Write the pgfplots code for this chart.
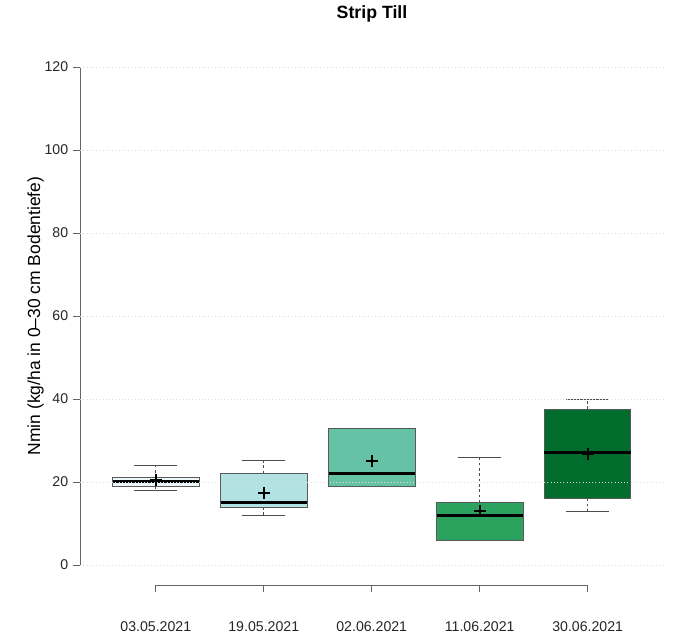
\documentclass[border=0pt]{standalone}
\usepackage{pgfplots}
\pgfplotsset{compat=1.18}
\usepackage{fontspec}
\setmainfont{Liberation Sans}
\definecolor{c1}{HTML}{EDF8FB}
\definecolor{c2}{HTML}{B2E2E2}
\definecolor{c3}{HTML}{66C2A4}
\definecolor{c4}{HTML}{2CA25F}
\definecolor{c5}{HTML}{006D2C}
\definecolor{axgray}{HTML}{666666}
\begin{document}
\begin{tikzpicture}
\begin{axis}[
  at={(60.15pt,37.5pt)}, anchor=south west,
  scale only axis, width=437.3pt, height=403.5pt,
  xmin=0.3, xmax=5.7, ymin=-4.8, ymax=124.8,
  axis line style={draw=none},
  xtick={1,2,3,4,5},
  xticklabels={03.05.2021,19.05.2021,02.06.2021,11.06.2021,30.06.2021},
  ytick={0,20,40,60,80,100,120},
  xtick pos=left, ytick pos=left,
  tick align=outside,
  major tick length=5.5pt,
  tick style={color=axgray, line width=0.6pt},
  ymajorgrids, grid style={dotted, color=black!13, line width=0.5pt},
  tick label style={font=\fontsize{10.6}{12}\selectfont, color=black!85},
  /pgf/number format/assume math mode=true,
  xticklabel style={anchor=base, yshift=-29.5pt},
  axis on top,
  clip=false,
]
% axis lines (R style)
\draw[axgray, line width=0.6pt] (axis cs:0.3,0) -- (axis cs:0.3,120);
\draw[axgray, line width=0.6pt] (axis cs:1,-4.8) -- (axis cs:5,-4.8);

% ---- whiskers (dashed) ----
\addplot[black!70, line width=0.6pt, dash pattern=on 2pt off 2pt] coordinates {(1,21) (1,24)};
\addplot[black!70, line width=0.6pt, dash pattern=on 2pt off 2pt] coordinates {(1,19) (1,18)};
\addplot[black!70, line width=0.6pt, dash pattern=on 2pt off 2pt] coordinates {(2,22.1) (2,25.1)};
\addplot[black!70, line width=0.6pt, dash pattern=on 2pt off 2pt] coordinates {(2,14) (2,12)};
\addplot[black!70, line width=0.6pt, dash pattern=on 2pt off 2pt] coordinates {(4,15) (4,26)};
\addplot[black!70, line width=0.6pt, dash pattern=on 2pt off 2pt] coordinates {(5,37.6) (5,40)};
\addplot[black!70, line width=0.6pt, dash pattern=on 2pt off 2pt] coordinates {(5,16.1) (5,13)};

% ---- caps ----
\addplot[black!70, line width=0.6pt] coordinates {(0.8,24) (1.2,24)};
\addplot[black!70, line width=0.6pt] coordinates {(0.8,18) (1.2,18)};
\addplot[black!70, line width=0.6pt] coordinates {(1.8,25.1) (2.2,25.1)};
\addplot[black!70, line width=0.6pt] coordinates {(1.8,12) (2.2,12)};
\addplot[black!70, line width=0.6pt] coordinates {(2.8,33) (3.2,33)};
\addplot[black!70, line width=0.6pt] coordinates {(2.8,19) (3.2,19)};
\addplot[black!70, line width=0.6pt] coordinates {(3.8,26) (4.2,26)};
\addplot[black!70, line width=0.6pt] coordinates {(3.8,6) (4.2,6)};
\addplot[black!70, line width=0.6pt] coordinates {(4.8,40) (5.2,40)};
\addplot[black!70, line width=0.6pt] coordinates {(4.8,13) (5.2,13)};

% ---- boxes (lower quartile to upper quartile) ----
\addplot[fill=c1, draw=black!65, line width=0.6pt] coordinates {(0.6,19) (1.4,19) (1.4,21) (0.6,21)} -- cycle;
\addplot[fill=c2, draw=black!65, line width=0.6pt] coordinates {(1.6,14) (2.4,14) (2.4,22.1) (1.6,22.1)} -- cycle;
\addplot[fill=c3, draw=black!65, line width=0.6pt] coordinates {(2.6,19) (3.4,19) (3.4,33) (2.6,33)} -- cycle;
\addplot[fill=c4, draw=black!65, line width=0.6pt] coordinates {(3.6,6) (4.4,6) (4.4,15) (3.6,15)} -- cycle;
\addplot[fill=c5, draw=black!65, line width=0.6pt] coordinates {(4.6,16.1) (5.4,16.1) (5.4,37.6) (4.6,37.6)} -- cycle;

% ---- medians ----
\addplot[black, line width=2.2pt] coordinates {(0.6,20.1) (1.4,20.1)};
\addplot[black, line width=2.2pt] coordinates {(1.6,15.1) (2.4,15.1)};
\addplot[black, line width=2.2pt] coordinates {(2.6,22) (3.4,22)};
\addplot[black, line width=2.2pt] coordinates {(3.6,12) (4.4,12)};
\addplot[black, line width=2.2pt] coordinates {(4.6,27.1) (5.4,27.1)};

% ---- means ----
\addplot[only marks, mark=+, mark size=4.5pt, line width=1.4pt, black]
  coordinates {(1,20.4) (2,17.4) (3,25.1) (4,13) (5,26.7)};
\end{axis}

\node[font=\bfseries\fontsize{13.3}{16}\selectfont, anchor=base] at (279pt,462pt) {Strip Till};
\node[rotate=90, anchor=base, font=\fontsize{13.1}{16}\selectfont] at (30pt,239.25pt) {Nmin (kg/ha in 0–30 cm Bodentiefe)};

\pgfresetboundingbox
\path[use as bounding box] (0,0) rectangle (506.25pt,476.25pt);
\end{tikzpicture}
\end{document}
